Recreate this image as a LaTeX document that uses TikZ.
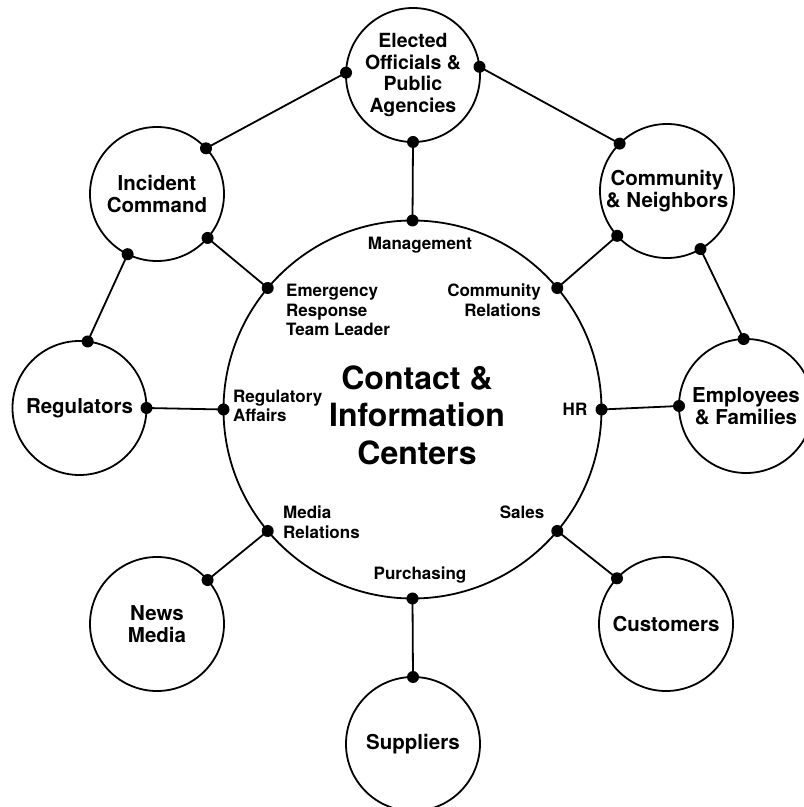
\documentclass[tikz,border=0pt]{standalone}
\usepackage{fontspec}
\setmainfont{TeX Gyre Heros}

\begin{document}
\begin{tikzpicture}[x=1pt, y=1pt,
    group/.style={circle, draw, line width=1.8pt, minimum size=134pt, inner sep=0pt, outer sep=0pt,
        align=center, font=\fontsize{20.5}{22}\selectfont\bfseries},
    role/.style={inner sep=0pt, font=\fontsize{17}{19.5}\selectfont\bfseries},
    link/.style={line width=1.8pt}]
    \useasboundingbox (0,0) rectangle (804,807);

    % Hub
    \node[circle, draw, line width=1.8pt, minimum size=378pt, inner sep=0pt, outer sep=0pt]
        (hub) at (412.5,397.5) {};
    \node[align=center, inner sep=0pt, font=\fontsize{32}{37.5}\selectfont\bfseries]
        (hubtitle) at (417,392) {Contact \&\\Information\\Centers};

    % Outer groups
    \node[group, font=\fontsize{19.5}{21.7}\selectfont\bfseries] (elected) at (413,732) {Elected\\Officials \&\\Public\\Agencies};
    \node[group] (incident) at (157,613) {Incident\\Command};
    \node[group] (community) at (667,616) {Community\\\& Neighbors};
    \node[group] (regulators) at (79.5,399) {Regulators};
    \node[group] (employees) at (746,401) {Employees\\\& Families};
    \node[group] (news) at (157,183) {News\\Media};
    \node[group] (customers) at (666,183) {Customers};
    \node[group] (suppliers) at (413,63) {Suppliers};

    % Roles inside the hub
    \node[role] (mgmt) at (420,562) {Management};
    \node[role, anchor=west, align=left] (ertl) at (286,497) {Emergency\\Response\\Team Leader};
    \node[role, anchor=east, align=right] (commrel) at (541,507) {Community\\Relations};
    \node[role, anchor=west, align=left] (regaff) at (233,401) {Regulatory\\Affairs};
    \node[role] (hr) at (575,398) {HR};
    \node[role, anchor=west, align=left] (mediarel) at (283,285) {Media\\Relations};
    \node[role] (sales) at (522,295) {Sales};
    \node[role] (purch) at (420,232) {Purchasing};

    % Spokes
    \draw[link] (hub.90) -- (elected.270);
    \draw[link] (hub.140) -- (incident.319);
    \draw[link] (hub.40) -- (community.222);
    \draw[link] (hub.180) -- (regulators.0);
    \draw[link] (hub.0) -- (employees.180);
    \draw[link] (hub.220) -- (news.41);
    \draw[link] (hub.320) -- (customers.137);
    \draw[link] (hub.270) -- (suppliers.90);

    % Upper ring
    \draw[link] (elected.178) -- (incident.43);
    \draw[link] (elected.7) -- (community.135);
    \draw[link] (incident.244) -- (regulators.83);
    \draw[link] (community.300) -- (employees.92);

    % Dots
    \foreach \p in {hub.0, hub.40, hub.90, hub.140, hub.180, hub.220, hub.270, hub.320,
        elected.270, elected.178, elected.7, incident.319, incident.43, incident.244,
        community.222, community.135, community.300, regulators.0, regulators.83,
        employees.180, employees.92, news.41, customers.137, suppliers.90}
        \fill (\p) circle (6pt);
\end{tikzpicture}
\end{document}
